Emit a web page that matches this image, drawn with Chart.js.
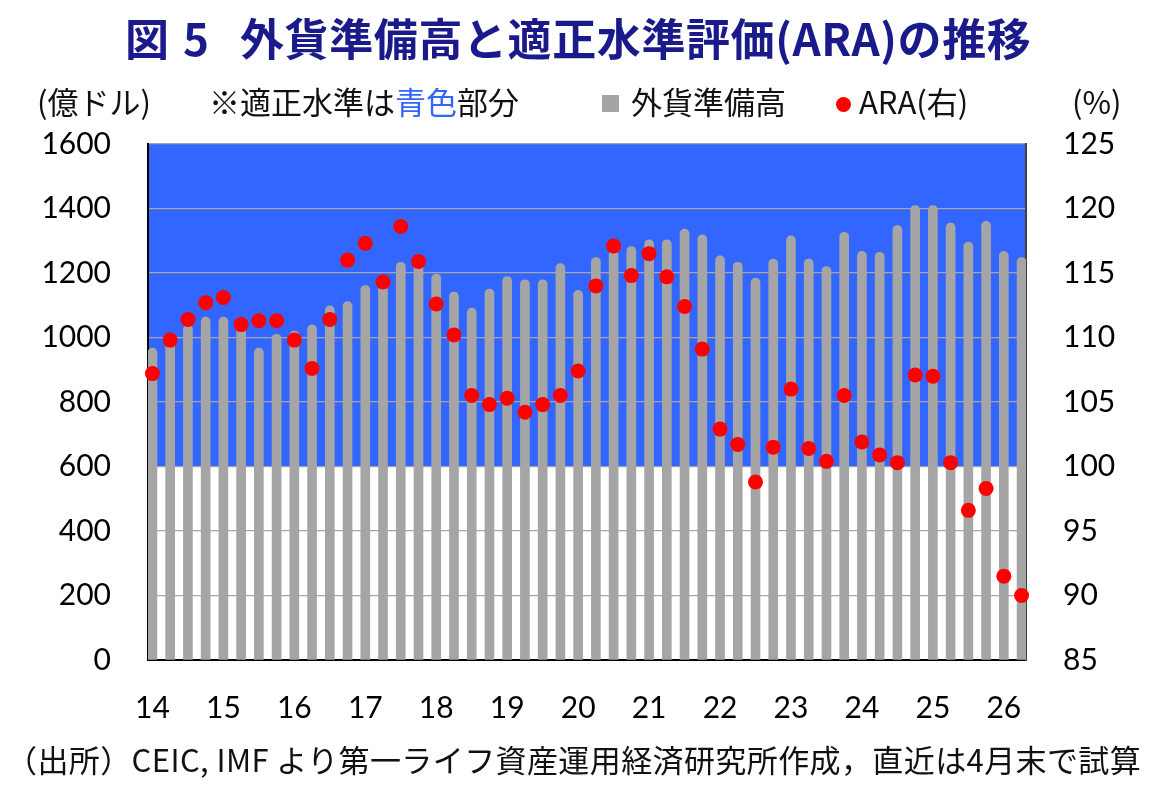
<!DOCTYPE html>
<html lang="ja">
<head>
<meta charset="utf-8">
<script src="https://cdn.jsdelivr.net/npm/chart.js@4.4.1/dist/chart.umd.min.js"></script>
<style>
  body { margin: 0; background: #fff; width: 1165px; height: 792px; overflow: hidden; position: relative; font-family: "Noto Sans CJK JP", sans-serif; }
  #grafico { position: absolute; left: 0; top: 0; }
  .texto { position: absolute; white-space: nowrap; line-height: 1; color: #111; }
  .titulo { font-size: 44px; font-weight: 700; color: #1a1a8a; top: 15px; }
  .cabecera { font-size: 31px; top: 85px; }
  .nota { font-size: 31px; top: 743px; left: 6px; letter-spacing: 0.4px; }
</style>
</head>
<body>
<canvas id="grafico" width="1165" height="792"></canvas>

<div class="texto titulo" style="left:125px">図</div>
<div class="texto titulo" style="left:183px">5</div>
<div class="texto titulo" style="left:240px;letter-spacing:0.6px">外貨準備高と適正水準評価(ARA)の推移</div>

<div class="texto cabecera" style="left:37px">(億ドル)</div>
<div class="texto cabecera" style="left:209px">※適正水準は<span style="color:#3366ff">青色</span>部分</div>
<div class="texto" style="left:602px;top:95px;width:17px;height:17px;background:#a5a5a5"></div>
<div class="texto cabecera" style="left:631px">外貨準備高</div>
<div class="texto" style="left:836px;top:97px;width:15px;height:15px;border-radius:50%;background:#ff0000"></div>
<div class="texto cabecera" style="left:859px">ARA(右)</div>
<div class="texto cabecera" style="left:1072px">(%)</div>

<div class="texto nota">（出所）CEIC, IMF より第一ライフ資産運用経済研究所作成，直近は4月末で試算</div>

<script>
// Etiquetas del eje X (una por año, cada 4 trimestres)
const anios = ["14", "15", "16", "17", "18", "19", "20", "21", "22", "23", "24", "25", "26"];

// Reservas de divisas (億ドル), trimestral
const reservas = [967, 995, 1039, 1063, 1063, 1040, 967, 1010, 1020, 1039,
                  1098, 1111, 1161, 1160, 1233, 1228, 1197, 1141, 1091, 1150,
                  1189, 1179, 1179, 1229, 1146, 1248, 1270, 1282, 1303, 1303,
                  1336, 1318, 1253, 1233, 1184, 1243, 1315, 1243, 1220, 1326,
                  1267, 1264, 1347, 1409, 1409, 1355, 1296, 1360, 1267, 1248];

// Evaluación ARA (%), eje derecho
const ara = [107.2, 109.8, 111.4, 112.7, 113.1, 111.0, 111.3, 111.3, 109.8, 107.6,
             111.4, 116.0, 117.3, 114.3, 118.6, 115.9, 112.6, 110.2, 105.5, 104.8,
             105.3, 104.2, 104.8, 105.5, 107.4, 114.0, 117.1, 114.8, 116.5, 114.7,
             112.4, 109.1, 102.9, 101.7, 98.8, 101.5, 106.0, 101.4, 100.4, 105.5,
             101.9, 100.9, 100.3, 107.1, 107.0, 100.3, 96.6, 98.3, 91.5, 90.0];

// Nivel adecuado: ARA entre 100% y 125% (zona azul)
const araMin = 100;
const araMax = 125;

const fuenteNum = { family: "Lato", size: 30 };

// Pintar la zona azul antes de la cuadrícula
const zonaAzul = {
    id: "zonaAzul",
    beforeDraw(chart) {
        const { ctx, chartArea, scales } = chart;
        const yArriba = scales.y2.getPixelForValue(araMax);
        const yAbajo = scales.y2.getPixelForValue(araMin);
        ctx.save();
        ctx.fillStyle = "#3366ff";
        ctx.fillRect(chartArea.left, yArriba, chartArea.right - chartArea.left, yAbajo - yArriba);
        ctx.restore();
    }
};

new Chart(document.getElementById("grafico"), {
    type: "bar",
    data: {
        datasets: [
            {
                type: "line",
                data: ara.map((v, i) => ({ x: i, y: v })),
                yAxisID: "y2",
                showLine: false,
                pointRadius: 7.5,
                pointBackgroundColor: "#ff0000",
                pointBorderWidth: 0,
                clip: false,
                order: 0
            },
            {
                data: reservas.map((v, i) => ({ x: i, y: v })),
                yAxisID: "y",
                backgroundColor: "#a5a5a5",
                barThickness: 9,
                borderRadius: { topLeft: 4.5, topRight: 4.5 },
                borderSkipped: "bottom",
                order: 1
            }
        ]
    },
    options: {
        responsive: false,
        devicePixelRatio: 1,
        animation: false,
        layout: { padding: { top: 144, left: 0, right: 0, bottom: 0 } },
        plugins: { legend: { display: false }, tooltip: { enabled: false } },
        scales: {
            x: {
                type: "linear",
                offset: false,
                min: -0.25,
                max: 49.25,
                grid: { display: false, offset: false },
                border: { display: true, color: "#000", width: 2 },
                afterBuildTicks: s => { s.ticks = anios.map((a, i) => ({ value: i * 4 })); },
                afterFit: s => { s.height = 132; },
                ticks: {
                    autoSkip: false,
                    maxRotation: 0,
                    padding: 22,
                    color: "#000",
                    font: fuenteNum,
                    callback: v => anios[v / 4]
                }
            },
            y: {
                position: "left",
                min: 0,
                max: 1600,
                afterFit: s => { s.width = 148; },
                grid: { color: "#a6a6a6", lineWidth: 1.3, drawTicks: false },
                border: { display: true, color: "#000", width: 2 },
                ticks: { stepSize: 200, padding: 37, color: "#000", font: fuenteNum, callback: v => String(v) }
            },
            y2: {
                position: "right",
                min: 85,
                max: 125,
                afterFit: s => { s.width = 139; },
                grid: { drawOnChartArea: false, drawTicks: false },
                border: { display: true, color: "#404040", width: 2 },
                ticks: { stepSize: 5, padding: 37, color: "#000", font: fuenteNum }
            }
        }
    },
    plugins: [zonaAzul]
});
</script>
</body>
</html>
